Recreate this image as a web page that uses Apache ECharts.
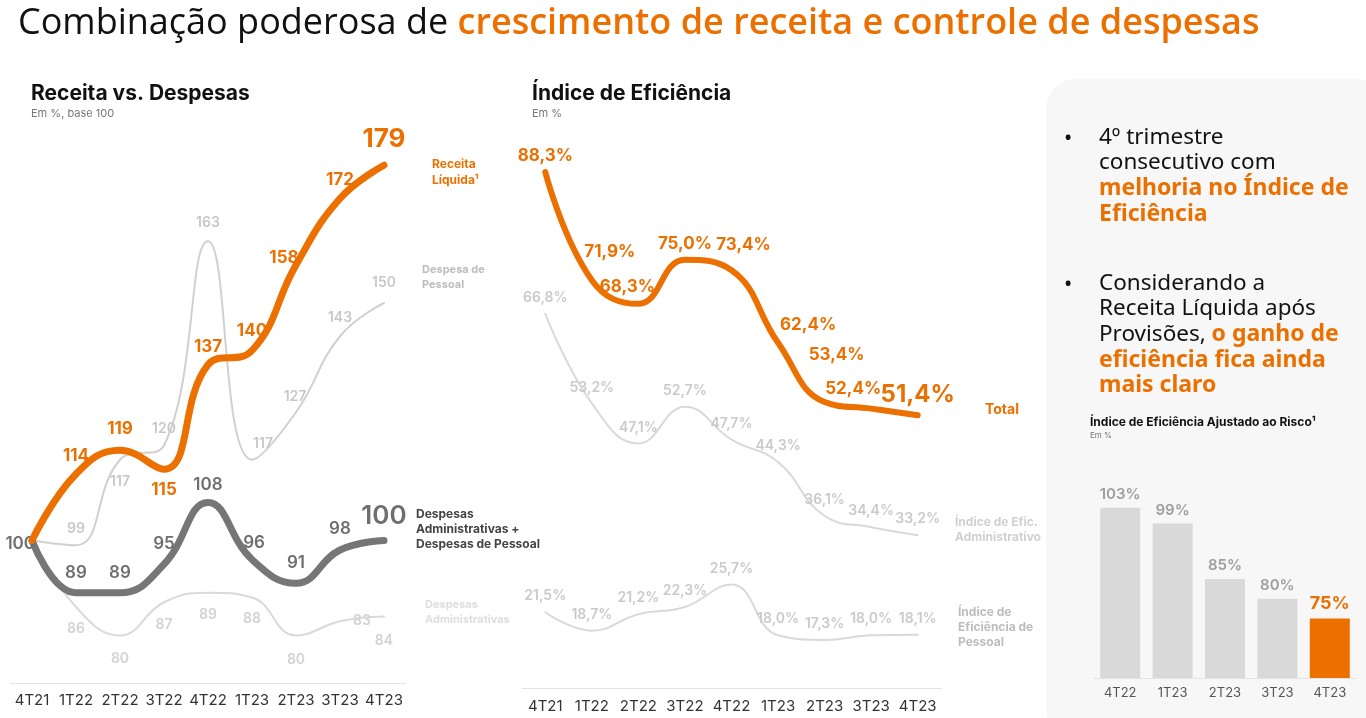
<!DOCTYPE html>
<html><head><meta charset="utf-8">
<script src="https://cdn.jsdelivr.net/npm/echarts@6/dist/echarts.min.js"></script>
<style>html,body{margin:0;padding:0;background:#fff}#c{width:1366px;height:718px}</style>
</head><body><div id="c"></div>
<script>
// ---- data ----
const quarters = ['4T21','1T22','2T22','3T22','4T22','1T23','2T23','3T23','4T23'];
const receitaLiquida = [100,114,119,115,137,140,158,172,179];
const despesaPessoal = [100,99,117,120,163,117,127,143,150];
const despesasAdmPessoal = [100,89,89,95,108,96,91,98,100];
const despesasAdm = [100,86,80,87,89,88,80,83,84];
const indiceTotal = [88.3,71.9,68.3,75.0,73.4,62.4,53.4,52.4,51.4];
const indiceAdm = [66.8,53.2,47.1,52.7,47.7,44.3,36.1,34.4,33.2];
const indicePessoal = [21.5,18.7,21.2,22.3,25.7,18.0,17.3,18.0,18.1];
const riskQuarters = ['4T22','1T23','2T23','3T23','4T23'];
const indiceRisco = [103,99,85,80,75];

const ORANGE = '#ec7000';
const LF = 'Inter';
const pct = v => v.toFixed(1).replace('.', ',') + '%';

function withLabels(values, overrides) {
  return values.map((v, i) => overrides[i] ? { value: v, label: overrides[i] } : v);
}
// label nudges: default shift plus per-point tweaks (pixels)
function nudge(def, per) {
  return p => {
    const t = per[p.dataIndex] || def;
    return { dx: t[0], dy: t[1] };
  };
}

const chart = echarts.init(document.getElementById('c'), null, { renderer: 'canvas' });

const axisX = (gi, data, fs, color, margin) => ({
  type: 'category', gridIndex: gi, data: data, boundaryGap: true,
  axisLine: { lineStyle: { color: '#e3e3e3', width: 1 } },
  axisTick: { show: false },
  axisLabel: { color: color, fontSize: fs, fontFamily: LF, margin: margin, interval: 0 }
});
const axisY = (gi, min, max) => ({
  type: 'value', gridIndex: gi, min: min, max: max, show: false, splitLine: { show: false }
});
const lineBase = (xi, color, width, z) => ({
  type: 'line', xAxisIndex: xi, yAxisIndex: xi, smooth: 0.45,
  symbol: 'circle', symbolSize: 0.01, showSymbol: true, showAllSymbol: true, z: z,
  itemStyle: { color: color },
  lineStyle: { color: color, width: width, cap: 'round' }
});

const richBullet = {
  n: { fontFamily: 'Noto Sans', fontSize: 22.5, fill: '#111', lineHeight: 25.5 },
  o: { fontFamily: 'Noto Sans', fontSize: 23, fontWeight: 'bold', fill: ORANGE, lineHeight: 25.5 }
};

const option = {
  animation: false,
  backgroundColor: '#ffffff',
  grid: [
    { left: 10, top: 113, width: 396, height: 570 },
    { left: 522, top: 95, width: 419, height: 593 },
    { left: 1094, top: 480, width: 262, height: 198 }
  ],
  xAxis: [
    axisX(0, quarters, 15, '#333', 10),
    axisX(1, quarters, 15, '#333', 11),
    axisX(2, riskQuarters, 13, '#555', 9)
  ],
  yAxis: [ axisY(0, 70, 190), axisY(1, 10, 100), axisY(2, 60, 110) ],
  graphic: [
    { type: 'rect', z: -1, shape: { x: 1046, y: 79, width: 340, height: 660, r: 30 }, style: { fill: '#f7f7f7' } },
    { type: 'text', left: 18, top: 6, style: {
        text: '{a|Combinação poderosa de }{b|crescimento de receita e controle de despesas}',
        rich: {
          a: { fontFamily: 'Open Sans', fontSize: 36, fontWeight: 400, fill: '#111' },
          b: { fontFamily: 'Open Sans', fontSize: 36, fontWeight: 600, fill: ORANGE }
        } } },
    { type: 'text', left: 31, top: 83, style: { text: 'Receita vs. Despesas', font: 'bold 21px Inter', fill: '#111' } },
    { type: 'text', left: 31, top: 108, style: { text: 'Em %, base 100', font: '11px Inter', fill: '#777' } },
    { type: 'text', left: 532, top: 83, style: { text: 'Índice de Eficiência', font: 'bold 21px Inter', fill: '#111' } },
    { type: 'text', left: 532, top: 108, style: { text: 'Em %', font: '11px Inter', fill: '#777' } },
    // end labels left chart
    { type: 'text', left: 432, top: 156, style: { text: 'Receita\nLíquida¹', font: 'bold 12px Inter', fill: ORANGE, lineHeight: 16 } },
    { type: 'text', left: 422, top: 262, style: { text: 'Despesa de\nPessoal', font: 'bold 11px Inter', fill: '#bdbdbd', lineHeight: 15 } },
    { type: 'text', left: 416, top: 507, style: { text: 'Despesas\nAdministrativas +\nDespesas de Pessoal', font: 'bold 12px Inter', fill: '#444', lineHeight: 15 } },
    { type: 'text', left: 425, top: 597, style: { text: 'Despesas\nAdministrativas', font: 'bold 11px Inter', fill: '#dedede', lineHeight: 15 } },
    // end labels middle chart
    { type: 'text', left: 985, top: 403, style: { text: 'Total', font: 'bold 14px Inter', fill: ORANGE } },
    { type: 'text', left: 955, top: 515, style: { text: 'Índice de Efic.\nAdministrativo', font: 'bold 12px Inter', fill: '#d0d0d0', lineHeight: 15 } },
    { type: 'text', left: 958, top: 605, style: { text: 'Índice de\nEficiência de\nPessoal', font: 'bold 12px Inter', fill: '#bdbdbd', lineHeight: 15 } },
    // right panel text
    { type: 'text', left: 1064, top: 128, style: { text: '•', font: '22px Noto Sans', fill: '#111' } },
    { type: 'text', left: 1099, top: 126, style: {
        text: '{n|4º trimestre}\n{n|consecutivo com}\n{o|melhoria no Índice de}\n{o|Eficiência}', rich: richBullet } },
    { type: 'text', left: 1064, top: 274, style: { text: '•', font: '22px Noto Sans', fill: '#111' } },
    { type: 'text', left: 1099, top: 272, style: {
        text: '{n|Considerando a}\n{n|Receita Líquida após}\n{n|Provisões, }{o|o ganho de}\n{o|eficiência fica ainda}\n{o|mais claro}', rich: richBullet } },
    { type: 'text', left: 1090, top: 416, style: { text: 'Índice de Eficiência Ajustado ao Risco¹', font: 'bold 12px Inter', fill: '#111' } },
    { type: 'text', left: 1090, top: 432, style: { text: 'Em %', font: '8px Inter', fill: '#777' } }
  ],
  series: [
    // ---- left chart ----
    Object.assign(lineBase(0, '#d9d9d9', 2, 1), {
      name: 'Despesas Administrativas',
      label: { show: true, position: 'bottom', offset: [0, 9], color: '#d2d2d2', fontSize: 14, fontFamily: LF, fontWeight: 600 },
      labelLayout: nudge([0, 10], { 1: [0, 10], 2: [0, 11], 3: [0, 11], 5: [0, 9], 6: [0, 12], 7: [8, 0], 8: [0, 12] }),
      data: withLabels(despesasAdm, { 0: { show: false }, 7: { position: 'right' } })
    }),
    Object.assign(lineBase(0, '#d0d0d0', 2, 1), {
      name: 'Despesa de Pessoal',
      label: { show: true, position: 'top', offset: [0, -6], color: '#c8c8c8', fontSize: 14, fontFamily: LF, fontWeight: 600 },
      labelLayout: nudge([0, -5], { 1: [0, -4], 2: [0, 10], 4: [0, -6], 5: [11, -4], 6: [-1, -3], 7: [0, -6], 8: [0, -8] }),
      data: withLabels(despesaPessoal, { 0: { show: false }, 2: { position: 'bottom' } })
    }),
    Object.assign(lineBase(0, '#767676', 7, 3), {
      name: 'Despesas Administrativas + Despesas de Pessoal',
      label: { show: true, position: 'top', offset: [0, -8], color: '#6f6f6f', fontSize: 17, fontFamily: LF, fontWeight: 600 },
      labelLayout: nudge([0, -6], { 0: [8, 3], 3: [0, -7], 4: [0, -4], 5: [2, -3], 6: [0, -7], 7: [0, -8] }),
      data: withLabels(despesasAdmPessoal, { 0: { position: 'left' }, 8: { fontSize: 26 } })
    }),
    Object.assign(lineBase(0, ORANGE, 7, 4), {
      name: 'Receita Líquida',
      label: { show: true, position: 'top', offset: [0, -6], color: ORANGE, fontSize: 17, fontFamily: LF, fontWeight: 700 },
      labelLayout: nudge([0, -5], { 2: [0, -8], 3: [0, 7], 4: [0, -4], 5: [0, -6], 6: [-12, 6], 8: [0, -8] }),
      data: withLabels(receitaLiquida, { 0: { show: false }, 3: { position: 'bottom' }, 8: { fontSize: 26 } })
    }),
    // ---- middle chart ----
    Object.assign(lineBase(1, '#d9d9d9', 2, 1), {
      name: 'Índice de Efic. Administrativo',
      label: { show: true, position: 'top', offset: [0, -6], color: '#cacaca', fontSize: 14, fontFamily: LF, fontWeight: 600, formatter: p => pct(p.value) },
      labelLayout: nudge([0, -4], {}),
      data: indiceAdm
    }),
    Object.assign(lineBase(1, '#d9d9d9', 2, 1), {
      name: 'Índice de Eficiência de Pessoal',
      label: { show: true, position: 'top', offset: [0, -6], color: '#cacaca', fontSize: 14, fontFamily: LF, fontWeight: 600, formatter: p => pct(p.value) },
      labelLayout: nudge([0, -4], {}),
      data: indicePessoal
    }),
    Object.assign(lineBase(1, ORANGE, 6, 4), {
      name: 'Total',
      label: { show: true, position: 'top', offset: [0, -5], color: ORANGE, fontSize: 17, fontFamily: LF, fontWeight: 700, formatter: p => pct(p.value) },
      labelLayout: nudge([0, -3], { 1: [18, -15], 2: [-11, -3], 3: [0, -2], 4: [12, -12], 5: [30, -4], 6: [12, -34], 7: [-18, -6] }),
      data: withLabels(indiceTotal, { 8: { fontSize: 24 } })
    }),
    // ---- right bar chart ----
    {
      name: 'Índice de Eficiência Ajustado ao Risco', type: 'bar', xAxisIndex: 2, yAxisIndex: 2,
      barWidth: 40, itemStyle: { color: '#d9d9d9' },
      label: { show: true, position: 'top', distance: 6, color: '#9e9e9e', fontSize: 15, fontFamily: LF, fontWeight: 600, formatter: p => p.value + '%' },
      data: indiceRisco.map((v, i) => i === indiceRisco.length - 1
        ? { value: v, itemStyle: { color: ORANGE }, label: { color: ORANGE, fontSize: 18, fontWeight: 700 } }
        : v)
    }
  ]
};
chart.setOption(option);
</script></body></html>
